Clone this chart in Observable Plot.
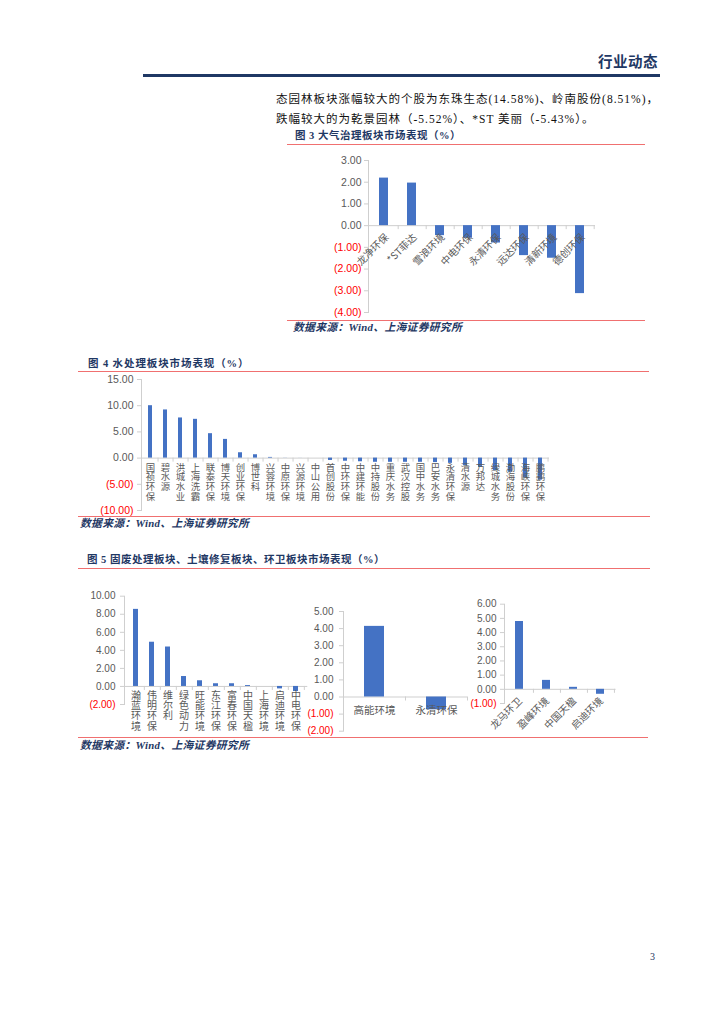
<!DOCTYPE html>
<html><head><meta charset="utf-8">
<script src="https://cdn.jsdelivr.net/npm/d3@7"></script>
<script src="https://cdn.jsdelivr.net/npm/@observablehq/plot@0.6"></script>
<style>
body{margin:0;background:#fff;}
#page{position:relative;width:724px;height:1024px;overflow:hidden;background:#fff;font-family:"Noto Sans CJK SC",sans-serif;}
.abs{position:absolute;white-space:nowrap;line-height:1;}
.hdr{font-weight:bold;color:#1f3864;font-size:14.5px;letter-spacing:0.5px;}
.body{font-family:"Liberation Serif","Noto Sans CJK SC",serif;font-size:11.5px;letter-spacing:1px;color:#111;}
.ftitle{font-family:"Liberation Serif","Noto Sans CJK SC",serif;font-weight:bold;color:#1f3864;font-size:10.5px;letter-spacing:0.5px;}
.src{font-family:"Liberation Serif","Noto Sans CJK SC",serif;font-weight:bold;font-style:italic;color:#1f3864;font-size:10.8px;letter-spacing:0.3px;}
.hl{position:absolute;}
</style></head>
<body><div id="page"></div>
<script>
// ---------- data ----------
const airNames = ["龙净环保","*ST菲达","雪浪环境","中电环保","永清环保","远达环保","清新环境","德创环保"];
const airValues = [2.19, 1.96, -0.46, -0.58, -0.80, -1.38, -1.50, -3.13];
const airTicks = [3, 2, 1, 0, -1, -2, -3, -4];

const waterNames = ["国祯环保","碧水源","洪城水业","上海洗霸","联泰环保","博天环境","创业环保","博世科","兴蓉环境","中原环保","兴源环境","中山公用","首创股份","中环环保","中建环能","中持股份","重庆水务","武汉控股","国中水务","巴安水务","永清环保","清水源","万邦达","绿城水务","渤海股份","海峡环保","鹏鹞环保"];
const waterValues = [10.0, 9.19, 7.66, 7.4, 4.66, 3.57, 1.02, 0.64, 0.13, 0.02, 0.01, 0.0, -0.45, -0.6, -0.7, -0.8, -0.8, -0.8, -0.8, -0.85, -1.0, -1.47, -1.78, -2.4, -2.7, -3.8, -4.2];
const waterTicks = [15, 10, 5, 0, -5, -10];

const solidNames = ["瀚蓝环境","伟明环保","维尔利","绿色动力","旺能环境","东江环保","富春环保","中国天楹","上海环境","启迪环境","中电环保"];
const solidValues = [8.54, 4.9, 4.37, 1.1, 0.63, 0.3, 0.3, 0.1, 0.0, -0.27, -0.56];
const solidTicks = [10, 8, 6, 4, 2, 0, -2];

const soilNames = ["高能环境","永清环保"];
const soilValues = [4.13, -0.75];
const soilTicks = [5, 4, 3, 2, 1, 0, -1, -2];

const sanNames = ["龙马环卫","盈峰环境","中国天楹","启迪环境"];
const sanValues = [4.78, 0.63, 0.14, -0.35];
const sanTicks = [6, 5, 4, 3, 2, 1, 0, -1];

// ---------- page furniture ----------
const page = document.getElementById("page");
function addText(txt, cls, left, top, extra) {
  const d = document.createElement("div");
  d.className = "abs " + cls;
  d.textContent = txt;
  d.style.left = left + "px"; d.style.top = top + "px";
  if (extra) Object.assign(d.style, extra);
  page.appendChild(d);
  return d;
}
function addLine(x1, x2, y, h, color) {
  const d = document.createElement("div");
  d.className = "hl";
  Object.assign(d.style, {left: x1 + "px", top: y + "px", width: (x2 - x1) + "px", height: h + "px", background: color});
  page.appendChild(d);
}
addText("行业动态", "hdr", 598, 54);
addLine(143, 660, 74, 2.5, "#1f3864");
addText("态园林板块涨幅较大的个股为东珠生态(14.58%)、岭南股份(8.51%)，", "body", 276, 94);
addText("跌幅较大的为乾景园林（-5.52%）、*ST 美丽（-5.43%）。", "body", 276, 114);

addText("图 3 大气治理板块市场表现（%）", "ftitle", 295, 131);
addLine(287, 645, 144, 1, "#f07070");
addLine(287, 645, 320, 1, "#f07070");
addText("数据来源：Wind、上海证券研究所", "src", 293, 322);

addText("图 4 水处理板块市场表现（%）", "ftitle", 88, 359, {letterSpacing: "0.9px"});
addLine(78, 649, 371, 1, "#f07070");
addLine(78, 650, 516, 1, "#f07070");
addText("数据来源：Wind、上海证券研究所", "src", 80, 518);

addText("图 5 固废处理板块、土壤修复板块、环卫板块市场表现（%）", "ftitle", 87, 555);
addLine(78, 650, 568, 1, "#f07070");
addLine(78, 648, 737, 1, "#f07070");
addText("数据来源：Wind、上海证券研究所", "src", 80, 740);

addText("3", "body", 650, 952, {color: "#1f3864", fontSize: "10px", letterSpacing: "0"});

// ---------- charts ----------
const axisGray = "#cfcfcf";
const fmt = d => d < 0 ? `(${(-d).toFixed(2)})` : d.toFixed(2);
function barChart(names, values, yTicks, o) {
  const data = names.map((name, i) => ({name, chars: Array.from(name), value: values[i]}));
  const frameW = o.width - o.ml - o.mr;
  const step = frameW / names.length;
  const labelBase = {x: "name", y: () => 0, fill: "#595959", fontFamily: "Noto Sans CJK SC", fontSize: o.labelSize};
  let labels = [];
  if (o.mode === "rotate") {
    labels.push(Plot.text(data, {...labelBase, text: "name", rotate: -45, textAnchor: "end", dx: o.ldx, dy: o.ldy}));
  } else if (o.mode === "stack") {
    const maxLen = d3.max(data, d => d.chars.length);
    for (let i = 0; i < maxLen; i++) {
      labels.push(Plot.text(data.filter(d => d.chars.length > i),
        {...labelBase, text: d => d.chars[i], lineAnchor: "top", dy: o.ldy + i * o.pitch}));
    }
  } else {
    labels.push(Plot.text(data, {...labelBase, text: "name", dy: o.ldy, letterSpacing: 0.5}));
  }
  const plot = Plot.plot({
    width: o.width, height: o.height,
    marginLeft: o.ml, marginRight: o.mr, marginTop: o.mt, marginBottom: o.mb,
    x: {domain: names, paddingInner: o.padding, paddingOuter: o.padding / 2, axis: null},
    y: {domain: o.yDomain, axis: null},
    color: {type: "identity"},
    style: {background: "none", overflow: "visible"},
    marks: [
      Plot.ruleY([0], {stroke: axisGray, strokeWidth: 1}),
      // category boundary ticks below the zero line
      Plot.ruleX(data, {x: "name", y1: () => 0, y2: () => 0, dx: step / 2, insetBottom: -4, stroke: axisGray}),
      // y-axis line and outside ticks
      Plot.frame({anchor: "left", stroke: axisGray}),
      Plot.ruleY(yTicks, {y: d => d, insetLeft: -4, insetRight: frameW, stroke: axisGray}),
      Plot.barY(data, {x: "name", y: "value", fill: "#4472c4"}),
      Plot.text(yTicks, {y: d => d, frameAnchor: "left", textAnchor: "end", dx: -o.tickGap, text: fmt,
        fill: d => d < 0 ? "#ff0000" : "#595959", fontSize: o.tickSize, fontFamily: "Liberation Sans"}),
      ...labels
    ]
  });
  const holder = document.createElement("div");
  holder.style.position = "absolute";
  holder.style.left = o.left + "px"; holder.style.top = o.top + "px";
  holder.appendChild(plot);
  page.appendChild(holder);
}

barChart(airNames, airValues, airTicks, {left: 286, top: 150, width: 314, height: 172, ml: 82, mr: 5, mt: 10, mb: 10,
  yDomain: [-4, 3], padding: 0.68, tickSize: 10.5, tickGap: 7, mode: "rotate", labelSize: 10, ldx: 3, ldy: 10});

barChart(waterNames, waterValues, waterTicks, {left: 78, top: 372, width: 572, height: 145, ml: 63, mr: 101, mt: 7, mb: 7,
  yDomain: [-10, 15], padding: 0.715, tickSize: 10.5, tickGap: 8, mode: "stack", labelSize: 9.4, pitch: 9.6, ldy: 6});

barChart(solidNames, solidValues, solidTicks, {left: 78, top: 585, width: 232, height: 130, ml: 46, mr: 2.7, mt: 10.7, mb: 11,
  yDomain: [-2, 10], padding: 0.7, tickSize: 10, tickGap: 9, mode: "stack", labelSize: 10, pitch: 10.4, ldy: 5});

barChart(soilNames, soilValues, soilTicks, {left: 300, top: 600, width: 170, height: 140, ml: 43, mr: 3, mt: 11, mb: 9.3,
  yDomain: [-2, 5], padding: 0.68, tickSize: 10, tickGap: 10, mode: "flat", labelSize: 10.5, ldy: 14});

barChart(sanNames, sanValues, sanTicks, {left: 460, top: 595, width: 160, height: 115, ml: 44, mr: 4.4, mt: 8.7, mb: 7,
  yDomain: [-1, 6], padding: 0.7, tickSize: 10, tickGap: 8, mode: "rotate", labelSize: 10, ldx: 1, ldy: 10});
</script>
</body></html>
